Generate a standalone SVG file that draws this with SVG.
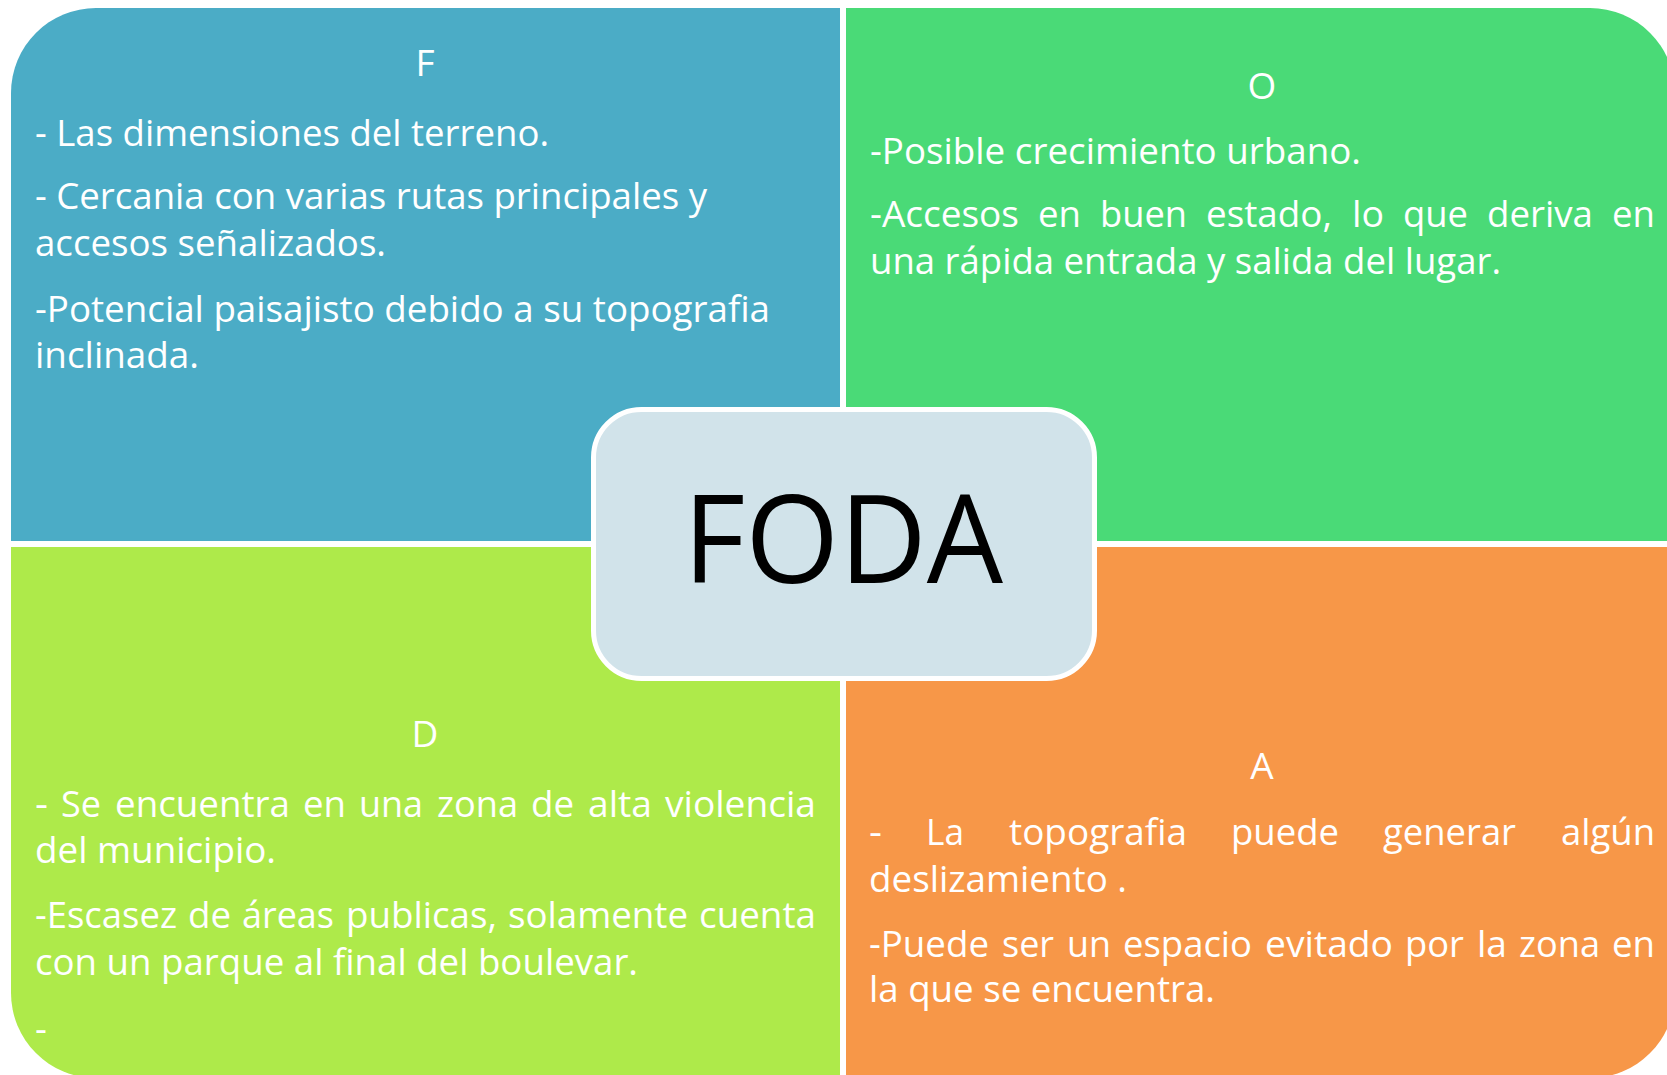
<svg xmlns="http://www.w3.org/2000/svg" width="1667" height="1075" viewBox="0 0 1667 1075">
<style>
  .t { font-family: "Open Sans", "Liberation Sans", sans-serif; font-size: 37px; fill: #FFFFFF; }
  .h { text-anchor: middle; }
  .big { font-family: "Open Sans", "Liberation Sans", sans-serif; font-size: 122px; fill: #000000; }
</style>
<rect x="0" y="0" width="1667" height="1075" fill="#FFFFFF"/>

<g id="node-F">
  <path d="M11,93 A85,85 0 0 1 96,8 L840,8 L840,541 L11,541 Z" fill="#4BACC6"/>
  <text class="t h" x="425" y="76">F</text>
  <text class="t" x="35" y="146" textLength="514" lengthAdjust="spacingAndGlyphs">- Las dimensiones del terreno.</text>
  <text class="t" x="35" y="209" textLength="672" lengthAdjust="spacingAndGlyphs">- Cercania con varias rutas principales y</text>
  <text class="t" x="35" y="256" textLength="351" lengthAdjust="spacingAndGlyphs">accesos señalizados.</text>
  <text class="t" x="35" y="322" textLength="735" lengthAdjust="spacingAndGlyphs">-Potencial paisajisto debido a su topografia</text>
  <text class="t" x="35" y="368" textLength="164" lengthAdjust="spacingAndGlyphs">inclinada.</text>
</g>

<g id="node-O">
  <path d="M846,8 L1590,8 A85,85 0 0 1 1675,93 L1675,541 L846,541 Z" fill="#4ADA77"/>
  <text class="t h" x="1262" y="99">O</text>
  <text class="t" x="870" y="164" textLength="491" lengthAdjust="spacingAndGlyphs">-Posible crecimiento urbano.</text>
  <text class="t" x="870" y="227" textLength="149" lengthAdjust="spacingAndGlyphs">-Accesos</text>
  <text class="t" x="1038" y="227" textLength="43" lengthAdjust="spacingAndGlyphs">en</text>
  <text class="t" x="1100" y="227" textLength="87" lengthAdjust="spacingAndGlyphs">buen</text>
  <text class="t" x="1206" y="227" textLength="126" lengthAdjust="spacingAndGlyphs">estado,</text>
  <text class="t" x="1352" y="227" textLength="32" lengthAdjust="spacingAndGlyphs">lo</text>
  <text class="t" x="1403" y="227" textLength="65" lengthAdjust="spacingAndGlyphs">que</text>
  <text class="t" x="1487" y="227" textLength="106" lengthAdjust="spacingAndGlyphs">deriva</text>
  <text class="t" x="1612" y="227" textLength="43" lengthAdjust="spacingAndGlyphs">en</text>
  <text class="t" x="870" y="274" textLength="631" lengthAdjust="spacingAndGlyphs">una rápida entrada y salida del lugar.</text>
</g>

<g id="node-D">
  <path d="M11,547 L840,547 L840,1078 L96,1078 A85,85 0 0 1 11,993 Z" fill="#AEEA4A"/>
  <text class="t h" x="425" y="747">D</text>
  <text class="t" x="35" y="817" textLength="13" lengthAdjust="spacingAndGlyphs">-</text>
  <text class="t" x="61" y="817" textLength="40" lengthAdjust="spacingAndGlyphs">Se</text>
  <text class="t" x="115" y="817" textLength="175" lengthAdjust="spacingAndGlyphs">encuentra</text>
  <text class="t" x="303" y="817" textLength="43" lengthAdjust="spacingAndGlyphs">en</text>
  <text class="t" x="359" y="817" textLength="64" lengthAdjust="spacingAndGlyphs">una</text>
  <text class="t" x="437" y="817" textLength="81" lengthAdjust="spacingAndGlyphs">zona</text>
  <text class="t" x="531" y="817" textLength="43" lengthAdjust="spacingAndGlyphs">de</text>
  <text class="t" x="588" y="817" textLength="64" lengthAdjust="spacingAndGlyphs">alta</text>
  <text class="t" x="665" y="817" textLength="151" lengthAdjust="spacingAndGlyphs">violencia</text>
  <text class="t" x="35" y="863" textLength="241" lengthAdjust="spacingAndGlyphs">del municipio.</text>
  <text class="t" x="35" y="928" textLength="142" lengthAdjust="spacingAndGlyphs">-Escasez</text>
  <text class="t" x="188" y="928" textLength="43" lengthAdjust="spacingAndGlyphs">de</text>
  <text class="t" x="242" y="928" textLength="92" lengthAdjust="spacingAndGlyphs">áreas</text>
  <text class="t" x="346" y="928" textLength="151" lengthAdjust="spacingAndGlyphs">publicas,</text>
  <text class="t" x="508" y="928" textLength="180" lengthAdjust="spacingAndGlyphs">solamente</text>
  <text class="t" x="699" y="928" textLength="117" lengthAdjust="spacingAndGlyphs">cuenta</text>
  <text class="t" x="35" y="975" textLength="603" lengthAdjust="spacingAndGlyphs">con un parque al final del boulevar.</text>
  <text class="t" x="35" y="1042">-</text>
</g>

<g id="node-A">
  <path d="M846,547 L1675,547 L1675,993 A85,85 0 0 1 1590,1078 L846,1078 Z" fill="#F79748"/>
  <text class="t h" x="1262" y="779">A</text>
  <text class="t" x="869" y="845" textLength="13" lengthAdjust="spacingAndGlyphs">-</text>
  <text class="t" x="926" y="845" textLength="38" lengthAdjust="spacingAndGlyphs">La</text>
  <text class="t" x="1009" y="845" textLength="178" lengthAdjust="spacingAndGlyphs">topografia</text>
  <text class="t" x="1231" y="845" textLength="108" lengthAdjust="spacingAndGlyphs">puede</text>
  <text class="t" x="1383" y="845" textLength="133" lengthAdjust="spacingAndGlyphs">generar</text>
  <text class="t" x="1561" y="845" textLength="94" lengthAdjust="spacingAndGlyphs">algún</text>
  <text class="t" x="869" y="892" textLength="258" lengthAdjust="spacingAndGlyphs">deslizamiento .</text>
  <text class="t" x="869" y="957" textLength="120" lengthAdjust="spacingAndGlyphs">-Puede</text>
  <text class="t" x="1002" y="957" textLength="52" lengthAdjust="spacingAndGlyphs">ser</text>
  <text class="t" x="1067" y="957" textLength="44" lengthAdjust="spacingAndGlyphs">un</text>
  <text class="t" x="1123" y="957" textLength="129" lengthAdjust="spacingAndGlyphs">espacio</text>
  <text class="t" x="1265" y="957" textLength="128" lengthAdjust="spacingAndGlyphs">evitado</text>
  <text class="t" x="1405" y="957" textLength="59" lengthAdjust="spacingAndGlyphs">por</text>
  <text class="t" x="1477" y="957" textLength="30" lengthAdjust="spacingAndGlyphs">la</text>
  <text class="t" x="1519" y="957" textLength="81" lengthAdjust="spacingAndGlyphs">zona</text>
  <text class="t" x="1612" y="957" textLength="43" lengthAdjust="spacingAndGlyphs">en</text>
  <text class="t" x="869" y="1002" textLength="346" lengthAdjust="spacingAndGlyphs">la que se encuentra.</text>
</g>

<g id="node-center">
  <rect x="593.5" y="409.5" width="501" height="269" rx="48" ry="48" fill="#D1E3EA" stroke="#FFFFFF" stroke-width="5"/>
  <text class="big" x="683" y="583" textLength="320" lengthAdjust="spacingAndGlyphs">FODA</text>
</g>

<g id="connectors"/>
</svg>
